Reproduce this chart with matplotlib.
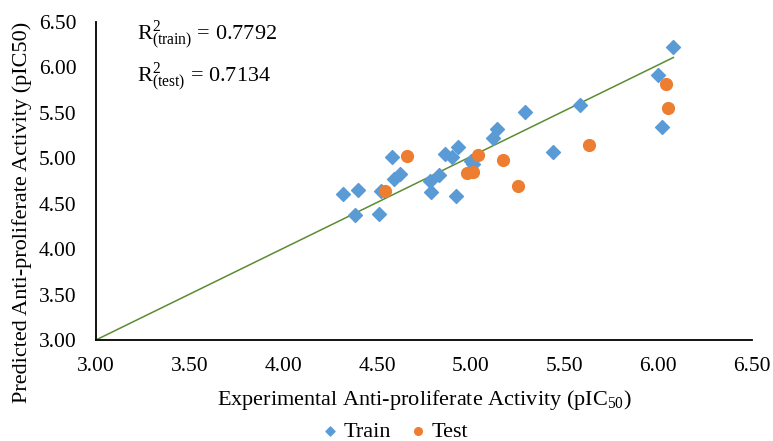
# plot.py
# Experimental vs predicted anti-proliferate activity (train / test scatter).

import matplotlib
matplotlib.use("Agg")
import matplotlib.pyplot as plt

# --- data ---
train_x = [4.32, 4.40, 4.38, 4.51, 4.52, 4.58, 4.59, 4.62, 4.78, 4.79, 4.83, 4.86, 4.90,
           4.93, 4.92, 5.00, 5.01, 5.12, 5.14, 5.29, 5.44, 5.58, 6.00, 6.02, 6.08]
train_y = [4.61, 4.65, 4.38, 4.39, 4.64, 5.02, 4.77, 4.83, 4.75, 4.63, 4.82, 5.05, 5.01,
           5.13, 4.59, 4.97, 4.94, 5.22, 5.32, 5.51, 5.07, 5.59, 5.92, 5.35, 6.23]

test_x = [4.54, 4.66, 4.98, 5.01, 5.04, 5.17, 5.25, 5.63, 6.04, 6.05]
test_y = [4.64, 5.03, 4.84, 4.85, 5.04, 4.98, 4.69, 5.15, 5.82, 5.55]

# trend line end points
line_x = [3.00, 6.08]
line_y = [3.00, 6.11]

ticks = [3.00, 3.50, 4.00, 4.50, 5.00, 5.50, 6.00, 6.50]
r2_train = 0.7792
r2_test = 0.7134

plt.rcParams['font.family'] = ['Liberation Serif', 'DejaVu Serif']
plt.rcParams['mathtext.fontset'] = 'custom'
plt.rcParams['mathtext.rm'] = 'Liberation Serif'
plt.rcParams['mathtext.it'] = 'Liberation Serif'

fig = plt.figure(figsize=(7.73, 4.41), dpi=100)
ax = fig.add_axes([0.124, 0.229, 0.849, 0.721])

ax.plot(line_x, line_y, color='#5B8C32', linewidth=1.1, zorder=1)
ax.scatter(train_x, train_y, marker='D', s=50, color='#5B9BD5', label='Train', zorder=2)
ax.scatter(test_x, test_y, marker='o', s=72, color='#ED7D31', label='Test', zorder=3)

ax.set_xlim(3.0, 6.5)
ax.set_ylim(3.0, 6.5)
ax.set_xticks(ticks)
ax.set_yticks(ticks)
ax.set_xticklabels([f"{t:.2f}" for t in ticks])
ax.set_yticklabels([f"{t:.2f}" for t in ticks])
ax.tick_params(length=0, labelsize=15.5)
ax.tick_params(axis='x', pad=12)
ax.tick_params(axis='y', pad=14)

for side in ['top', 'right']:
    ax.spines[side].set_visible(False)
for side in ['left', 'bottom']:
    ax.spines[side].set_linewidth(1.3)
    ax.spines[side].set_color('black')

ax.set_xlabel(r"Experimental Anti-proliferate Activity (pIC$_{50}$)", fontsize=16)
ax.set_ylabel("Predicted Anti-proliferate Activity (pIC50)", fontsize=16)
ax.xaxis.set_label_coords(0.5, -0.15)
ax.yaxis.set_label_coords(-0.098, 0.40)

ax.text(0.062, 0.943, r"R$^{2}_{\mathrm{(train)}}$ = " + f"{r2_train:.4f}",
        transform=ax.transAxes, fontsize=16, va='baseline')
ax.text(0.062, 0.811, r"R$^{2}_{\mathrm{(test)}}$ = " + f"{r2_test:.4f}",
        transform=ax.transAxes, fontsize=16, va='baseline')

fig.legend(loc='center', bbox_to_anchor=(0.512, 0.022), ncol=2, frameon=False,
           fontsize=16, handlelength=0.6, handletextpad=0.3, columnspacing=0.9,
           markerscale=0.65, borderpad=0)

fig.savefig("out.png", dpi=100)
